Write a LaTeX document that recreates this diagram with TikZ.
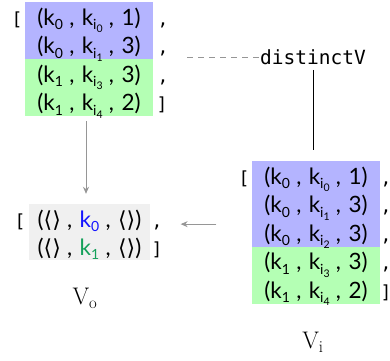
\documentclass[tikz,border=0pt]{standalone}
\usepackage{fontspec}
\newfontfamily\monofont{DejaVu Sans Mono}
\newfontfamily\tupfont{Lato}
\newfontfamily\angfont{DejaVu Sans}
\usetikzlibrary{arrows.meta}
\definecolor{bluebox}{RGB}{180,180,255}
\definecolor{greenbox}{RGB}{180,255,180}
\definecolor{graybox}{RGB}{240,240,240}
\definecolor{kblue}{RGB}{20,20,255}
\definecolor{kgreen}{RGB}{20,160,90}
\definecolor{linegray}{RGB}{150,150,150}
\newcommand{\sbx}[1]{\raisebox{-0.22em}{\fontsize{14}{14}\selectfont #1}}
\newcommand{\ssbx}[1]{\raisebox{-0.2em}{\fontsize{10.5}{10.5}\selectfont #1}}
\newcommand{\kk}[1]{k\sbx{#1}}
\newcommand{\ki}[1]{k\sbx{i\ssbx{#1}}}
\newcommand{\cm}{\hspace{0.28em},\hspace{0.33em}}
\newcommand{\emp}{{\angfont\fontsize{22}{22}\selectfont ⟨⟩}}
\begin{document}
\begin{tikzpicture}[x=1pt,y=-1pt,
  rowtext/.style={inner sep=0pt,anchor=base,font=\tupfont\fontsize{22.5}{22.5}\selectfont},
  punct/.style={inner sep=0pt,anchor=base,font=\monofont\fontsize{18}{18}\selectfont},
  bandbox/.style={inner sep=0pt,draw=none},
  lbl/.style={inner sep=0pt,font=\fontsize{24}{24}\selectfont},
  codelbl/.style={inner sep=1pt,font=\monofont\fontsize{19.5}{19.5}\selectfont},
  grayarrow/.style={draw=linegray,line width=0.9pt,-{Stealth[length=7pt,width=6pt]}},
]
\useasboundingbox (0,0) rectangle (390,360);
% ---------- top-left list ----------
\node[bandbox,fill=bluebox,minimum width=128pt,minimum height=57pt] (tlb) at (89,30.5) {};
\node[bandbox,fill=greenbox,minimum width=128pt,minimum height=57pt] (tlg) at (89,87.5) {};
\node[rowtext] (t1) at (89,25) {(\kk{0}\cm\ki{0}\cm 1)};
\node[rowtext] (t2) at (89,53.5) {(\kk{0}\cm\ki{1}\cm 3)};
\node[rowtext] (t3) at (89,82) {(\kk{1}\cm\ki{3}\cm 3)};
\node[rowtext] (t4) at (89,110.5) {(\kk{1}\cm\ki{4}\cm 2)};
\node[punct] (tob) at (17,25) {[};
\node[punct] (tc1) at (163,25) {,};
\node[punct] (tc2) at (163,53.5) {,};
\node[punct] (tc3) at (163,82) {,};
\node[punct] (tcb) at (162,110.5) {]};
% ---------- distinctV ----------
\node[codelbl] (dv) at (313,57) {distinctV};
\coordinate (dvl) at (185,57);
\draw[linegray,line width=0.9pt,dash pattern=on 6pt off 5pt] (dv.west) -- (dvl);
% ---------- right list ----------
\node[bandbox,fill=bluebox,minimum width=128pt,minimum height=85.5pt] (rlb) at (316,203.75) {};
\node[bandbox,fill=greenbox,minimum width=128pt,minimum height=57.5pt] (rlg) at (316,275.25) {};
\node[rowtext] (r1) at (316,184) {(\kk{0}\cm\ki{0}\cm 1)};
\node[rowtext] (r2) at (316,212.5) {(\kk{0}\cm\ki{1}\cm 3)};
\node[rowtext] (r3) at (316,241) {(\kk{0}\cm\ki{2}\cm 3)};
\node[rowtext] (r4) at (316,269.5) {(\kk{1}\cm\ki{3}\cm 3)};
\node[rowtext] (r5) at (316,298) {(\kk{1}\cm\ki{4}\cm 2)};
\node[punct] (rob) at (244,184) {[};
\node[punct] (rc1) at (386,184) {,};
\node[punct] (rc2) at (386,212.5) {,};
\node[punct] (rc3) at (386,241) {,};
\node[punct] (rc4) at (386,269.5) {,};
\node[punct] (rcb) at (386,298) {]};
\draw[black,line width=0.9pt,shorten <=4pt,shorten >=11pt] (dv.south) -- (dv.south |- rlb.north);
% ---------- bottom-left list ----------
\node[bandbox,fill=graybox,minimum width=121pt,minimum height=56pt] (gl) at (89.5,232) {};
\node[rowtext] (g1) at (89.5,227) {(\emp\cm\textcolor{kblue}{\kk{0}}\cm\emp)};
\node[rowtext] (g2) at (89.5,255) {(\emp\cm\textcolor{kgreen}{\kk{1}}\cm\emp)};
\node[punct] (gob) at (20,227) {[};
\node[punct] (gc1) at (157,227) {,};
\node[punct] (gcb) at (157,255) {]};
% ---------- labels ----------
\node[lbl] (vo) at (85,298) {V\textsubscript{o}};
\node[lbl] (vi) at (313,342) {V\textsubscript{i}};
% ---------- arrows ----------
\draw[grayarrow,shorten <=5pt,shorten >=10pt] (tlg.south) ++(-3,0) coordinate (da) -- (da |- gl.north);
\draw[grayarrow,shorten <=22pt,shorten >=18pt] (rob.west |- gc1.north) -- (gc1.east |- gc1.north);
\end{tikzpicture}
\end{document}
